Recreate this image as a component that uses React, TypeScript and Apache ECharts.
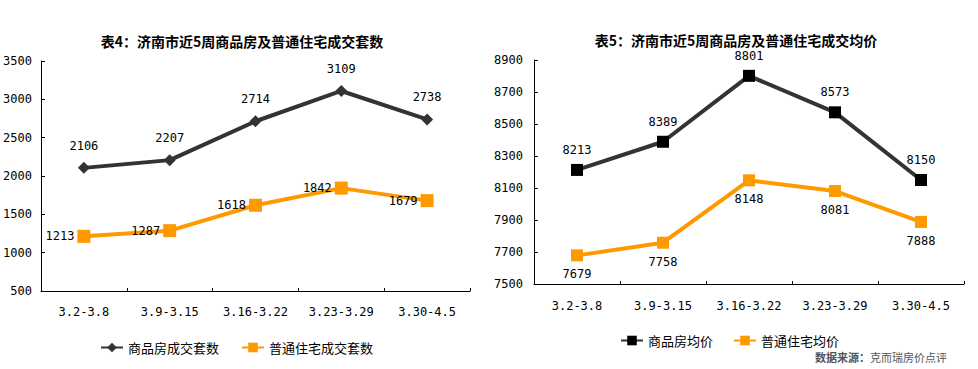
import React, { useEffect, useRef } from "react";
import * as echarts from "echarts";

const weeks = ["3.2-3.8", "3.9-3.15", "3.16-3.22", "3.23-3.29", "3.30-4.5"];
const commodityCount = [2106, 2207, 2714, 3109, 2738];
const ordinaryCount = [1213, 1287, 1618, 1842, 1679];
const commodityPrice = [8213, 8389, 8801, 8573, 8150];
const ordinaryPrice = [7679, 7758, 8148, 8081, 7888];

const leftTitle = "表4：济南市近5周商品房及普通住宅成交套数";
const rightTitle = "表5：济南市近5周商品房及普通住宅成交均价";
const leftNames = ["商品房成交套数", "普通住宅成交套数"];
const rightNames = ["商品房均价", "普通住宅均价"];

const MONO = '"DejaVu Sans Mono", monospace';
const CJK = '"Noto Sans CJK SC", sans-serif';
const DARK = "#333333";
const ORANGE = "#FF9900";

export default function App() {
  const ref = useRef<HTMLDivElement>(null);
  useEffect(() => {
    if (!ref.current) return;
    const chart = echarts.init(ref.current, null, { renderer: "svg" });
    const xAxisBase = (gridIndex: number, margin: number) => ({
      type: "category" as const,
      gridIndex,
      data: weeks,
      boundaryGap: true,
      axisLine: { lineStyle: { color: "#000", width: 1 } },
      axisTick: { show: true, inside: true, length: 3, lineStyle: { color: "#000" } },
      axisLabel: { color: "#000", fontFamily: MONO, fontSize: 12, margin, interval: 0 },
      splitLine: { show: false },
    });
    const yAxisBase = (gridIndex: number, min: number, max: number, interval: number, margin: number) => ({
      type: "value" as const,
      gridIndex,
      min,
      max,
      interval,
      axisLine: { show: true, lineStyle: { color: "#000", width: 1 } },
      axisTick: { show: true, inside: true, length: 4, lineStyle: { color: "#000" } },
      axisLabel: {
        color: "#000",
        fontFamily: MONO,
        fontSize: 12,
        margin,
        formatter: (v: number) => String(v),
      },
      splitLine: { show: false },
    });
    const labelStyle = { color: "#000", fontFamily: MONO, fontSize: 12 };
    chart.setOption({
      animation: false,
      backgroundColor: "#fff",
      grid: [
        { left: 41, top: 61, width: 429, height: 230 },
        { left: 534, top: 60, width: 430, height: 224 },
      ],
      xAxis: [xAxisBase(0, 15), xAxisBase(1, 16)],
      yAxis: [yAxisBase(0, 500, 3500, 500, 9), yAxisBase(1, 7500, 8900, 200, 11)],
      legend: [
        {
          data: leftNames,
          left: 100,
          top: 341,
          padding: 0,
          itemWidth: 22,
          itemHeight: 12,
          itemGap: 22,
          textStyle: { color: "#000", fontFamily: CJK, fontSize: 13 },
        },
        {
          data: rightNames,
          left: 620,
          top: 334,
          padding: 0,
          itemWidth: 22,
          itemHeight: 12,
          itemGap: 20,
          textStyle: { color: "#000", fontFamily: CJK, fontSize: 13 },
        },
      ],
      graphic: [
        {
          type: "text",
          x: 242,
          y: 41,
          style: {
            text: leftTitle,
            font: `bold 14px ${CJK}`,
            fill: "#000",
            align: "center",
            verticalAlign: "middle",
          },
        },
        {
          type: "text",
          x: 736,
          y: 40,
          style: {
            text: rightTitle,
            font: `bold 14px ${CJK}`,
            fill: "#000",
            align: "center",
            verticalAlign: "middle",
          },
        },
        {
          type: "text",
          x: 815,
          y: 357,
          style: {
            text: "{b|数据来源：}{n|克而瑞房价点评}",
            verticalAlign: "middle",
            rich: {
              b: { fontFamily: CJK, fontSize: 11, fontWeight: "bold", fill: "#555" },
              n: { fontFamily: CJK, fontSize: 11, fill: "#555" },
            },
          },
        },
      ],
      series: [
        {
          name: leftNames[0],
          type: "line",
          xAxisIndex: 0,
          yAxisIndex: 0,
          data: commodityCount,
          symbol: "diamond",
          symbolSize: 12,
          lineStyle: { color: DARK, width: 4 },
          itemStyle: { color: DARK },
          label: { show: true, position: "top", distance: 10, ...labelStyle },
        },
        {
          name: leftNames[1],
          type: "line",
          xAxisIndex: 0,
          yAxisIndex: 0,
          data: ordinaryCount,
          symbol: "rect",
          symbolSize: 13,
          lineStyle: { color: ORANGE, width: 4 },
          itemStyle: { color: ORANGE },
          label: { show: true, position: "left", distance: 3, ...labelStyle },
        },
        {
          name: rightNames[0],
          type: "line",
          xAxisIndex: 1,
          yAxisIndex: 1,
          data: commodityPrice,
          symbol: "rect",
          symbolSize: 12,
          lineStyle: { color: DARK, width: 4 },
          itemStyle: { color: "#000" },
          label: { show: true, position: "top", distance: 8, ...labelStyle },
        },
        {
          name: rightNames[1],
          type: "line",
          xAxisIndex: 1,
          yAxisIndex: 1,
          data: ordinaryPrice,
          symbol: "rect",
          symbolSize: 12,
          lineStyle: { color: ORANGE, width: 4 },
          itemStyle: { color: ORANGE },
          label: { show: true, position: "bottom", distance: 7, ...labelStyle },
        },
      ],
    });
    return () => chart.dispose();
  }, []);
  return (
    <div
      ref={ref}
      style={{ position: "fixed", left: 0, top: 0, width: 978, height: 369, background: "#fff" }}
    />
  );
}
